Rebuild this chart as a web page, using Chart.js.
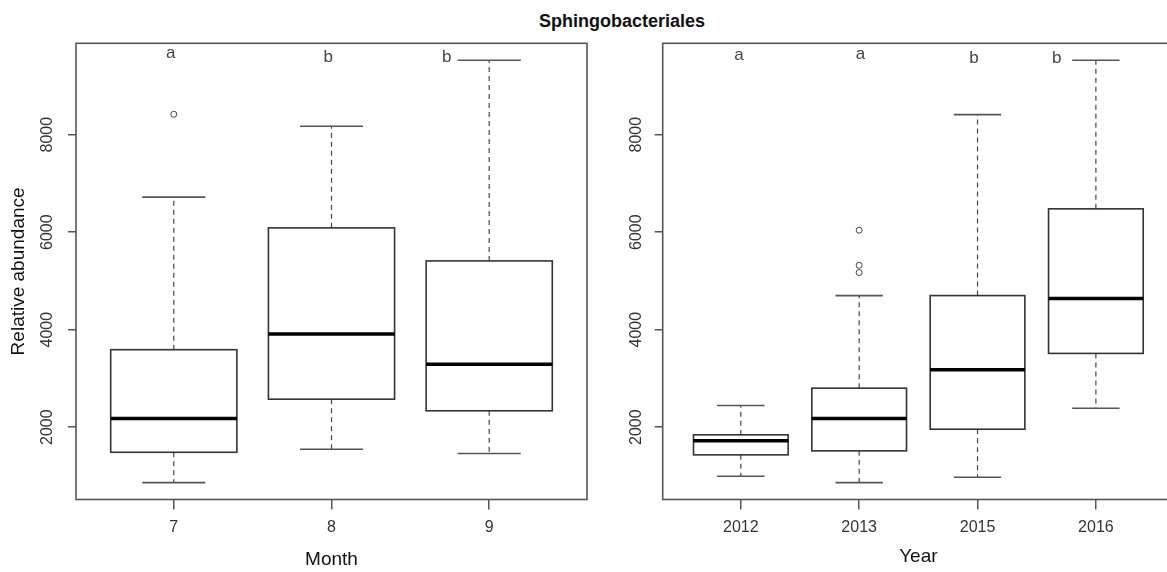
<!DOCTYPE html>
<html lang="en">
<head>
<meta charset="UTF-8">
<title>Sphingobacteriales</title>
<style>
  html, body { margin: 0; padding: 0; background: #fff; overflow: hidden; }
  body { width: 1167px; height: 572px; position: relative; }
  #title { position: absolute; left: 422px; top: 11px; width: 400px; text-align: center;
           font: bold 18px/20px "Liberation Sans", Arial, sans-serif; color: #111; }
  canvas { position: absolute; top: 0; }
  #monthChart { left: 0; }
  #yearChart { left: 600px; }
</style>
</head>
<body>
<div id="title">Sphingobacteriales</div>
<canvas id="monthChart" width="600" height="572"></canvas>
<canvas id="yearChart" width="600" height="572"></canvas>
<script src="https://cdn.jsdelivr.net/npm/chart.js"></script>
<script>
// Month panel
const monthLabels = ['7', '8', '9'];
const monthMin = [864, 1548, 1460];
const monthQ1 = [1486, 2575, 2337];
const monthMed = [2179, 3911, 3294];
const monthQ3 = [3590, 6089, 5411];
const monthMax = [6720, 8172, 9528];
const monthOutliers = [[8419], [], []];
const monthLetters = ['a', 'b', 'b'];
const monthLetterX = [0.98, 1.98, 2.73];
const monthLetterY = [9576, 9494, 9494];

// Year panel
const yearLabels = ['2012', '2013', '2015', '2016'];
const yearMin = [993, 864, 973, 2390];
const yearQ1 = [1433, 1515, 1959, 3514];
const yearMed = [1721, 2179, 3179, 4638];
const yearQ3 = [1844, 2801, 4700, 6479];
const yearMax = [2446, 4700, 8411, 9528];
const yearOutliers = [[], [6041, 5322, 5172], [], []];
const yearLetters = ['a', 'a', 'b', 'b'];
const yearLetterX = [0.985, 2.01, 2.97, 3.67];
const yearLetterY = [9535, 9555, 9473, 9473];

const yTicks = [2000, 4000, 6000, 8000];
const yMin = 517.4, yMax = 9874.6;

const tickFont = { family: '"Liberation Sans", Arial, sans-serif', size: 16 };
const titleFont = { family: '"Liberation Sans", Arial, sans-serif', size: 19 };

// draws boxes, whiskers, medians, frame and letters through the chart scales
function boxPlugin(s, letters, letterX, letterY) {
  return {
    id: 'boxes',
    beforeDatasetsDraw(chart) {
      const { ctx, scales: { x, y } } = chart;
      s.med.forEach((m, i) => {
        const c = i + 1;
        const xl = x.getPixelForValue(c - 0.4), xr = x.getPixelForValue(c + 0.4);
        const xc = x.getPixelForValue(c);
        const cl = x.getPixelForValue(c - 0.2), cr = x.getPixelForValue(c + 0.2);
        const pMin = y.getPixelForValue(s.min[i]), pQ1 = y.getPixelForValue(s.q1[i]);
        const pMed = y.getPixelForValue(m), pQ3 = y.getPixelForValue(s.q3[i]);
        const pMax = y.getPixelForValue(s.max[i]);
        ctx.save();
        ctx.strokeStyle = '#444';
        ctx.lineWidth = 1.2;
        ctx.setLineDash([5, 4]);
        ctx.beginPath();
        ctx.moveTo(xc, pQ3); ctx.lineTo(xc, pMax);
        ctx.moveTo(xc, pQ1); ctx.lineTo(xc, pMin);
        ctx.stroke();
        ctx.setLineDash([]);
        ctx.strokeStyle = '#555';
        ctx.lineWidth = 1.6;
        ctx.beginPath();
        ctx.moveTo(cl, pMax); ctx.lineTo(cr, pMax);
        ctx.moveTo(cl, pMin); ctx.lineTo(cr, pMin);
        ctx.stroke();
        ctx.fillStyle = '#fff';
        ctx.fillRect(xl, pQ3, xr - xl, pQ1 - pQ3);
        ctx.strokeStyle = '#333';
        ctx.strokeRect(xl, pQ3, xr - xl, pQ1 - pQ3);
        ctx.strokeStyle = '#000';
        ctx.lineWidth = 3.5;
        ctx.beginPath();
        ctx.moveTo(xl, pMed); ctx.lineTo(xr, pMed);
        ctx.stroke();
        ctx.restore();
      });
    },
    afterDraw(chart) {
      const { ctx, chartArea: a, scales: { x, y } } = chart;
      ctx.save();
      ctx.strokeStyle = '#555';
      ctx.lineWidth = 1.6;
      ctx.strokeRect(a.left, a.top, a.right - a.left, a.bottom - a.top);
      ctx.fillStyle = '#444';
      ctx.font = '17px ' + tickFont.family;
      ctx.textAlign = 'center';
      ctx.textBaseline = 'alphabetic';
      letters.forEach((t, i) => {
        ctx.fillText(t, x.getPixelForValue(letterX[i]), y.getPixelForValue(letterY[i]));
      });
      ctx.restore();
    }
  };
}

function makeChart(id, labels, stats, outliers, letters, letterX, letterY, opt) {
  const points = [];
  outliers.forEach((list, i) => list.forEach(v => points.push({ x: i + 1, y: v })));
  return new Chart(document.getElementById(id), {
    type: 'scatter',
    data: {
      datasets: [{
        data: points,
        pointStyle: 'circle',
        pointRadius: 3,
        borderColor: '#444',
        borderWidth: 1,
        backgroundColor: 'rgba(0,0,0,0)'
      }]
    },
    options: {
      responsive: false,
      animation: false,
      devicePixelRatio: 1,
      layout: { padding: { top: 43.3, right: opt.padRight, bottom: 0, left: 0 } },
      plugins: { legend: { display: false }, tooltip: { enabled: false } },
      scales: {
        x: {
          type: 'linear',
          min: opt.xMin,
          max: opt.xMax,
          bounds: 'data',
          afterBuildTicks: sc => { sc.ticks = labels.map((l, i) => ({ value: i + 1 })); },
          afterFit: sc => { sc.height = 72.5; },
          border: { display: false },
          grid: { drawOnChartArea: false, tickLength: 10, color: '#555', lineWidth: 1.5 },
          ticks: { callback: (v, i) => labels[i], maxRotation: 0, padding: 8, color: '#333', font: tickFont },
          title: { display: true, text: opt.xTitle, color: '#111', font: titleFont, padding: { top: 0, bottom: opt.titlePad } }
        },
        y: {
          type: 'linear',
          min: yMin,
          max: yMax,
          bounds: 'data',
          afterBuildTicks: sc => { sc.ticks = yTicks.map(v => ({ value: v })); },
          afterFit: sc => { sc.width = opt.yWidth; },
          border: { display: false },
          grid: { drawOnChartArea: false, tickLength: 8, color: '#555', lineWidth: 1.5 },
          ticks: { callback: v => String(v), minRotation: 90, maxRotation: 90, crossAlign: 'center',
                   padding: opt.yPad, color: '#333', font: tickFont },
          title: { display: !!opt.yTitle, text: opt.yTitle || '', color: '#111', font: titleFont, padding: { top: 7, bottom: 0 } }
        }
      }
    },
    plugins: [boxPlugin(stats, letters, letterX, letterY)]
  });
}

makeChart('monthChart', monthLabels,
  { min: monthMin, q1: monthQ1, med: monthMed, q3: monthQ3, max: monthMax },
  monthOutliers, monthLetters, monthLetterX, monthLetterY,
  { xMin: 0.38, xMax: 3.62, padRight: 13, yWidth: 76, yPad: 3, xTitle: 'Month', titlePad: 1, yTitle: 'Relative abundance' });

makeChart('yearChart', yearLabels,
  { min: yearMin, q1: yearQ1, med: yearMed, q3: yearQ3, max: yearMax },
  yearOutliers, yearLetters, yearLetterX, yearLetterY,
  { xMin: 0.34, xMax: 4.66, padRight: 26, yWidth: 62.7, yPad: 0, xTitle: 'Year', titlePad: 4 });
</script>
</body>
</html>
